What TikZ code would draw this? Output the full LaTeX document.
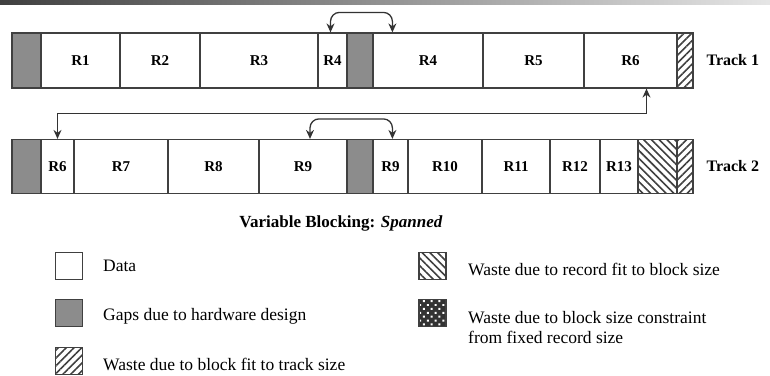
\documentclass[tikz,border=0pt]{standalone}
\usepackage{fontspec}
\setmainfont{Liberation Serif}
\usetikzlibrary{patterns.meta, arrows.meta}

\begin{document}
\begin{tikzpicture}[x=1pt, y=-1pt]
	\tikzstyle{rec} = [draw=black!75, line width=1.2pt, fill=white, inner sep=0pt, font=\bfseries\fontsize{15}{15}\selectfont]
	\tikzstyle{gap} = [rec, fill=black!45]
	\tikzstyle{fitwaste} = [rec, pattern={Lines[angle=45, distance=5.5pt, line width=1.6pt]}, pattern color=black!75]
	\tikzstyle{recwaste} = [rec, pattern={Lines[angle=-45, distance=5.5pt, line width=1.6pt]}, pattern color=black!75]
	\tikzstyle{sizewaste} = [rec, preaction={fill=black!80}, pattern={Dots[radius=1.4pt, distance=5.5pt, angle=45]}, pattern color=white]
	\tikzstyle{tracklabel} = [font=\bfseries\fontsize{16}{16}\selectfont, anchor=west]
	\tikzstyle{legtext} = [font=\fontsize{17.5}{20}\selectfont, anchor=west, align=left, inner sep=0pt]
	\tikzstyle{link} = [draw=black!80, line width=1.3pt, {Stealth[length=9pt, width=8pt]}-{Stealth[length=9pt, width=8pt]}]
	\def\trackone{60.5}
	\def\tracktwo{166.5}

	\useasboundingbox (0,0) rectangle (770,375);
	\shade[left color=black!75, right color=black!10] (0,0) rectangle (770,4);

	% track 1
	\foreach \name/\style/\l/\r/\txt in {g1a/gap/12/41/, r1/rec/41/120/R1, r2/rec/120/200/R2, r3/rec/200/318/R3, r4a/rec/318/347/R4, g1b/gap/347/373/, r4b/rec/373/483/R4, r5/rec/483/584/R5, r6a/rec/584/677/R6, w1/fitwaste/677/693/}
		\node[\style, minimum width={(\r-\l)*1pt}, minimum height=55pt] (\name) at ({(\l+\r)/2}, \trackone) {\txt};
	\node[tracklabel] (t1) at (703, \trackone) {Track 1};

	% track 2
	\foreach \name/\style/\l/\r/\txt in {g2a/gap/12/41/, r6b/rec/41/74/R6, r7/rec/74/168/R7, r8/rec/168/259/R8, r9a/rec/259/347/R9, g2b/gap/347/373/, r9b/rec/373/408/R9, r10/rec/408/482/R10, r11/rec/482/550/R11, r12/rec/550/600/R12, r13/rec/600/638/R13, w2/recwaste/638/677/, w3/fitwaste/677/693/}
		\node[\style, minimum width={(\r-\l)*1pt}, minimum height=54pt] (\name) at ({(\l+\r)/2}, \tracktwo) {\txt};
	\node[tracklabel] (t2) at (703, \tracktwo) {Track 2};

	% spanned records
	\draw[link, rounded corners=9pt] ([xshift=-2pt]r4a.north) -- ++(0,-20) -| ([xshift=20pt]r4b.north west);
	\draw[link] ([xshift=16pt]r6a.south) -- ++(0,25) -| (r6b.north);
	\draw[link, rounded corners=9pt] ([xshift=7pt]r9a.north) -- ++(0,-20) -| ([xshift=20pt]r9b.north west);

	\node[font=\bfseries\fontsize{17}{17}\selectfont] (title) at (341, 223) {Variable Blocking: \textit{Spanned}};

	% legend
	\foreach \name/\style/\x/\y in {kdata/rec/69/266, kgap/gap/69/313, kfit/fitwaste/69/361, krec/recwaste/432.5/266, ksize/sizewaste/432.5/313}
		\node[\style, minimum size=27pt] (\name) at (\x, \y) {};
	\node[legtext] (ldata) at (103, 266) {Data};
	\node[legtext] (lgap) at (103, 316) {Gaps due to hardware design};
	\node[legtext] (lfit) at (103, 364) {Waste due to block fit to track size};
	\node[legtext] (lrec) at (468, 269) {Waste due to record fit to block size};
	\node[legtext] (lsize) at (468, 328) {Waste due to block size constraint\\from fixed record size};
\end{tikzpicture}
\end{document}
